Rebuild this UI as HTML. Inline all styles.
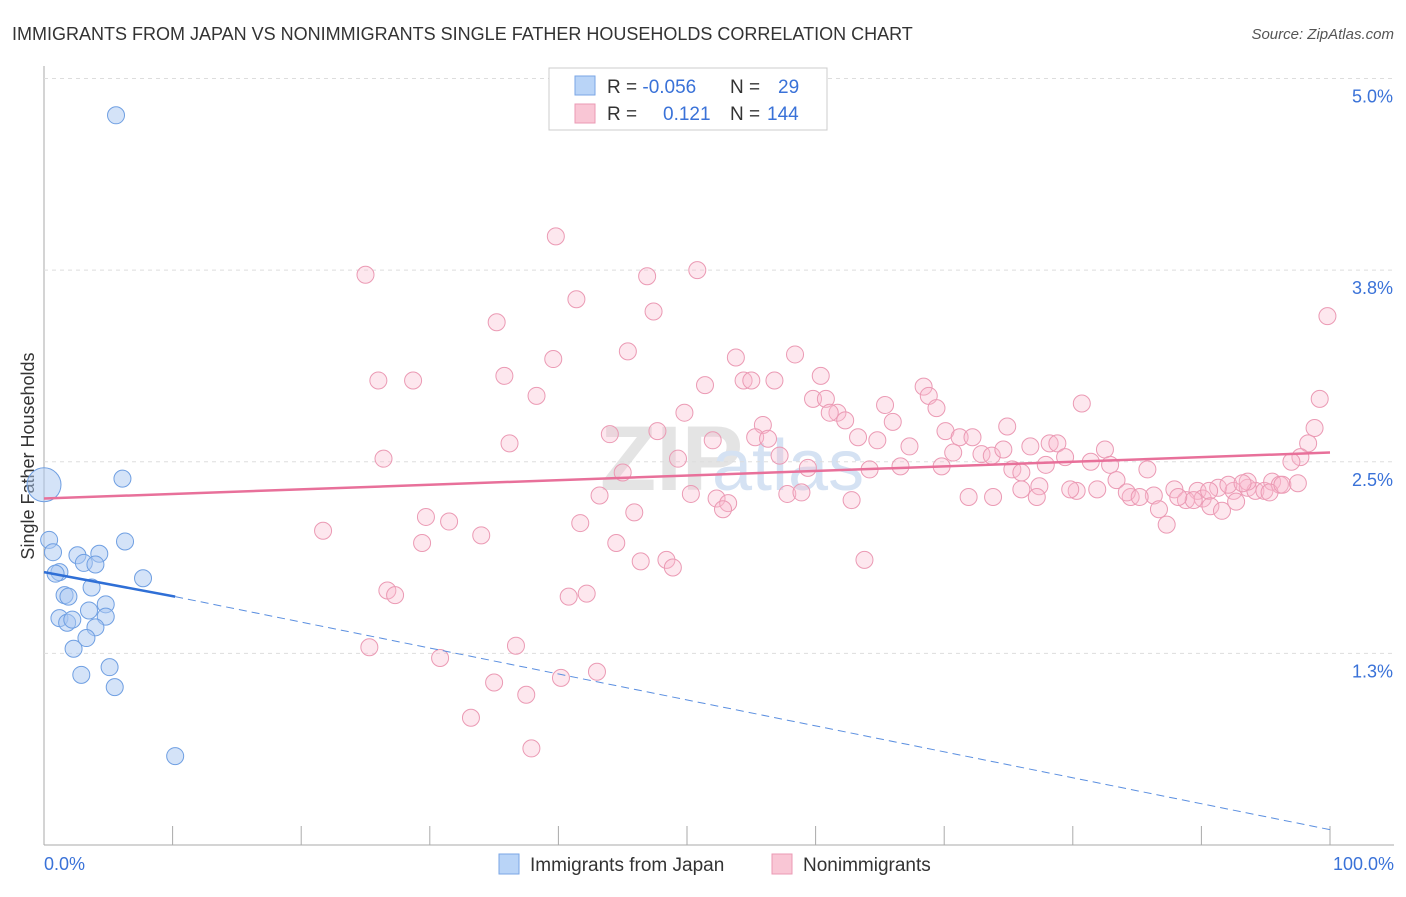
<!DOCTYPE html>
<html><head><meta charset="utf-8"><style>
body{margin:0;background:#fff;font-family:"Liberation Sans",sans-serif;}
svg text{font-family:"Liberation Sans",sans-serif;}
</style></head><body>
<svg id="c" width="1406" height="892">
<text x="12" y="40" font-size="18" fill="#333">IMMIGRANTS FROM JAPAN VS NONIMMIGRANTS SINGLE FATHER HOUSEHOLDS CORRELATION CHART</text>
<text x="1394" y="39" font-size="15" fill="#555" font-style="italic" text-anchor="end">Source: ZipAtlas.com</text>
<text x="600" y="490" font-size="92" fill="#e4e4e4" font-weight="bold" font-family="Liberation Serif">ZIP</text>
<text x="712" y="490" font-size="72" fill="#d5e2f3">atlas</text>
<text transform="translate(34,456) rotate(-90)" font-size="18" fill="#333" text-anchor="middle">Single Father Households</text>
<g id="grid"></g><g id="pts"></g><g id="lines"></g>
<g>
<rect x="549" y="68" width="278" height="62" fill="#fff" stroke="#ccc"/>
<rect x="575" y="76" width="20" height="19" fill="#b9d4f7" stroke="#7aa6e6"/>
<rect x="575" y="104" width="20" height="19" fill="#f9c6d5" stroke="#eb9ab4"/>
<text x="607" y="93" font-size="19" fill="#333">R = <tspan fill="#3a72d8">-0.056</tspan><tspan x="730">N = </tspan><tspan x="778" fill="#3a72d8">29</tspan></text>
<text x="607" y="120" font-size="19" fill="#333">R = <tspan x="663" fill="#3a72d8">0.121</tspan><tspan x="730">N = </tspan><tspan x="767" fill="#3a72d8">144</tspan></text>
</g>
<g>
<rect x="499" y="854" width="20" height="20" fill="#b9d4f7" stroke="#7aa6e6"/>
<text x="530" y="871" font-size="19" fill="#333">Immigrants from Japan</text>
<rect x="772" y="854" width="20" height="20" fill="#f9c6d5" stroke="#eb9ab4"/>
<text x="803" y="871" font-size="19" fill="#333">Nonimmigrants</text>
</g>
<text x="44" y="870" font-size="18" fill="#3a72d8">0.0%</text>
<text x="1394" y="870" font-size="18" fill="#3a72d8" text-anchor="end">100.0%</text>
</svg>
<script>
const yTicks=[5.0,3.75,2.5,1.25];
const yTickLabels=["5.0%","3.8%","2.5%","1.3%"];
const xTicks=[0,10,20,30,40,50,60,70,80,90,100];
const japanX=[5.6,6.1,6.3,0,0.4,0.7,2.6,4.3,3.1,4.0,1.2,0.9,7.7,3.7,1.6,1.9,1.2,4.8,3.5,1.8,2.2,4.8,4.0,3.3,2.3,5.1,2.9,5.5,10.2];
const japanY=[4.76,2.39,1.98,2.35,1.99,1.91,1.89,1.90,1.84,1.83,1.78,1.77,1.74,1.68,1.63,1.62,1.48,1.57,1.53,1.45,1.47,1.49,1.42,1.35,1.28,1.16,1.11,1.03,0.58];
const nonX=[39.8,25.0,50.8,46.9,41.4,47.4,35.2,99.8,45.4,39.6,58.4,53.8,35.8,26.0,28.7,54.4,55.0,56.8,60.4,51.4,38.3,68.4,68.8,59.8,60.8,80.7,99.2,49.8,61.7,65.4,69.4,62.3,61.1,66.0,55.9,44.0,47.7,74.9,70.1,71.2,72.2,55.3,56.3,52.0,63.3,64.8,67.3,76.7,78.2,78.8,82.5,98.8,98.3,36.2,26.4,57.2,70.7,49.3,72.9,73.7,74.6,79.4,81.4,82.9,97.7,97.0,59.4,64.2,66.6,69.8,75.3,76.0,77.9,85.8,45.0,76.0,77.4,83.4,80.3,81.9,87.9,89.7,91.3,92.5,93.6,94.2,94.9,95.5,96.1,93.6,95.3,96.3,97.5,92.1,93.2,90.1,90.6,84.5,86.3,84.2,85.2,88.8,89.4,88.2,92.7,43.2,50.3,52.3,53.2,52.8,57.8,58.9,62.8,71.9,73.8,77.2,79.8,90.7,91.6,86.7,87.3,41.7,45.9,29.7,31.5,34.0,21.7,44.5,29.4,46.4,48.4,48.9,63.8,26.7,27.3,40.8,42.2,25.3,36.7,30.8,40.2,43.0,35.0,37.5,33.2,37.9];
const nonY=[3.97,3.72,3.75,3.71,3.56,3.48,3.41,3.45,3.22,3.17,3.20,3.18,3.06,3.03,3.03,3.03,3.03,3.03,3.06,3.00,2.93,2.99,2.93,2.91,2.91,2.88,2.91,2.82,2.82,2.87,2.85,2.77,2.82,2.76,2.74,2.68,2.70,2.73,2.70,2.66,2.66,2.66,2.65,2.64,2.66,2.64,2.60,2.60,2.62,2.62,2.58,2.72,2.62,2.62,2.52,2.54,2.56,2.52,2.55,2.54,2.58,2.53,2.50,2.48,2.53,2.50,2.46,2.45,2.47,2.47,2.45,2.43,2.48,2.45,2.43,2.32,2.34,2.38,2.31,2.32,2.32,2.31,2.33,2.31,2.33,2.31,2.31,2.37,2.35,2.37,2.30,2.35,2.36,2.35,2.36,2.26,2.31,2.27,2.28,2.30,2.27,2.25,2.25,2.27,2.24,2.28,2.29,2.26,2.23,2.19,2.29,2.30,2.25,2.27,2.27,2.27,2.32,2.21,2.18,2.19,2.09,2.10,2.17,2.14,2.11,2.02,2.05,1.97,1.97,1.85,1.86,1.81,1.86,1.66,1.63,1.62,1.64,1.29,1.30,1.22,1.09,1.13,1.06,0.98,0.83,0.63];
const X=v=>44+v*12.86, Y=v=>845-v*153.3;
const NS="http://www.w3.org/2000/svg";
function mk(t,a,p){const e=document.createElementNS(NS,t);for(const k in a)e.setAttribute(k,a[k]);p.appendChild(e);return e;}
const g=document.getElementById('grid');
mk('line',{x1:44,y1:66,x2:44,y2:845,stroke:'#aaa'},g);
mk('line',{x1:44,y1:845,x2:1394,y2:845,stroke:'#aaa'},g);
yTicks.forEach((v,i)=>{
 const l=mk('line',{x1:44,y1:Y(v),x2:1394,y2:Y(v),stroke:'#ddd','stroke-dasharray':'4,4'},g);
 
 
 const t=mk('text',{x:1393,y:Y(v)+24,'font-size':18,fill:'#3a72d8','text-anchor':'end'},g);
 t.textContent=yTickLabels[i];
 
 
});
xTicks.forEach(v=>{
 const l=mk('line',{x1:X(v),y1:826,x2:X(v),y2:845,stroke:'#aaa'},g);
 
 
});
const p=document.getElementById('pts');
nonX.forEach((v,i)=>{
 const c=mk('circle',{cx:X(v),cy:Y(nonY[i]),r:8.5,fill:'rgba(248,185,205,0.35)',stroke:'#eb9ab4','stroke-width':1},p);
 
 
});
japanX.forEach((v,i)=>{
 const c=mk('circle',{cx:X(v),cy:Y(japanY[i]),r:i==3?17:8.5,fill:'rgba(170,200,242,0.5)',stroke:'#6f9fe2','stroke-width':1},p);
 
 
});
const L=document.getElementById('lines');
const pk=mk('line',{x1:X(0),y1:Y(2.26),x2:X(100),y2:Y(2.56),stroke:'#e8709a','stroke-width':2.5},L);


const b1=mk('line',{x1:X(0),y1:Y(1.78),x2:X(10.2),y2:Y(1.62),stroke:'#2f6fd6','stroke-width':2.5},L);


const b2=mk('line',{x1:X(10.2),y1:Y(1.62),x2:X(100),y2:Y(0.1),stroke:'#5b8fe0','stroke-width':1,'stroke-dasharray':'8,5'},L);


</script>
</body></html>
